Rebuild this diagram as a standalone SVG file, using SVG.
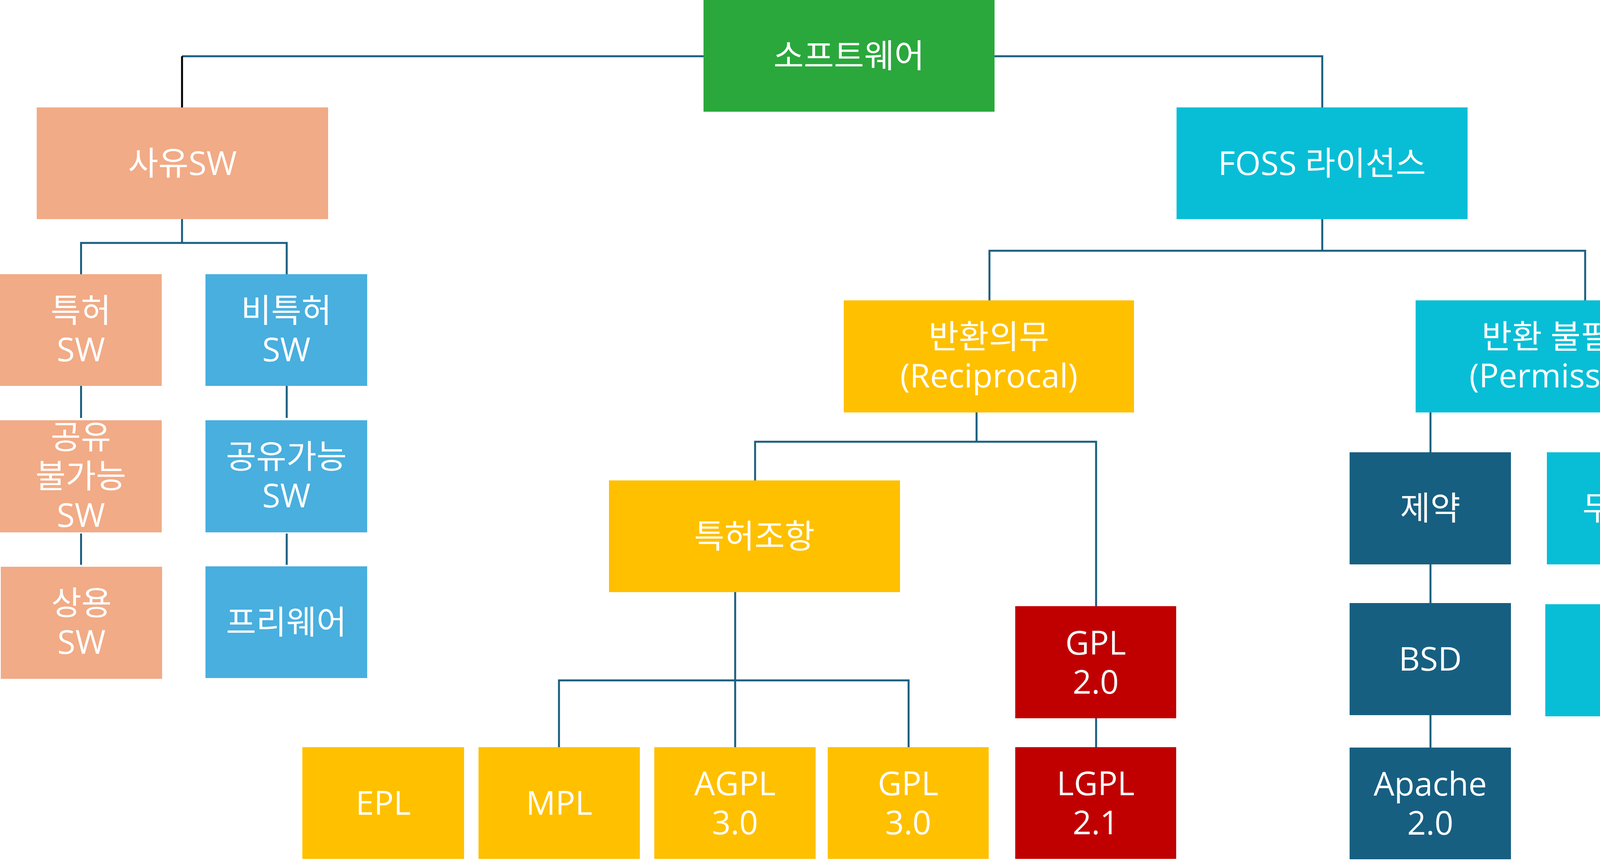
<svg xmlns="http://www.w3.org/2000/svg" width="4374" height="2207" viewBox="0 0 4374 2207">
<style>
.t{font-family:"Open Sans","Noto Sans CJK KR",sans-serif;font-size:84px;fill:#ffffff;text-anchor:middle}
.c{fill:none;stroke:#1A5F80;stroke-width:5}
.green{fill:#2AA83C}
.salmon{fill:#F1AB86}
.blue{fill:#48AFDF}
.cyan{fill:#07BED6}
.yellow{fill:#FFC000}
.red{fill:#C00000}
.teal{fill:#175F81}
</style>
<rect width="4374" height="2207" fill="#ffffff"/>
<g id="connectors">
<path class="c" d="M1801 144H466"/>
<path d="M466 144V275" fill="none" stroke="#000000" stroke-width="5"/>
<path class="c" d="M2546 144H3385V275"/>
<path class="c" d="M466 561V622M207.5 702V622H734V702"/>
<path class="c" d="M207.5 988V1070M207.5 1366V1446M734 988V1070M734 1366V1446"/>
<path class="c" d="M3385 561V642M2533 769V642H4058V769"/>
<path class="c" d="M2500 1056V1131M1933 1230V1131H2806V1552"/>
<path class="c" d="M1882 1516V1913M1431 1913V1742H2326V1913"/>
<path class="c" d="M2806 1839V1913"/>
<path class="c" d="M3662 1056V1158M4168 1056V1158M3662 1445V1544M3662 1831V1914M4168 1445V1547"/>
</g>
<g id="software"><rect class="green" x="1801" y="0" width="745" height="286"/><text class="t" x="2173.5" y="173">소프트웨어</text></g>
<g id="proprietary"><rect class="salmon" x="94" y="275" width="746" height="286"/><text class="t" x="467" y="448">사유SW</text></g>
<g id="foss"><rect class="cyan" x="3012" y="275" width="745" height="286"/><text class="t" x="3384.5" y="448">FOSS 라이선스</text></g>
<g id="patent-sw"><rect class="salmon" x="0" y="702" width="414" height="286"/><text class="t" x="207" y="825">특허</text><text class="t" x="207" y="925">SW</text></g>
<g id="nonpatent-sw"><rect class="blue" x="526" y="702" width="414" height="286"/><text class="t" x="733" y="825">비특허</text><text class="t" x="733" y="925">SW</text></g>
<g id="unshareable-sw"><rect class="salmon" x="0" y="1076" width="414" height="287"/><text class="t" x="207" y="1149">공유</text><text class="t" x="207" y="1249">불가능</text><text class="t" x="207" y="1349">SW</text></g>
<g id="shareable-sw"><rect class="blue" x="526" y="1076" width="414" height="287"/><text class="t" x="733" y="1199">공유가능</text><text class="t" x="733" y="1299">SW</text></g>
<g id="commercial-sw"><rect class="salmon" x="2" y="1451" width="413" height="287"/><text class="t" x="208.5" y="1574">상용</text><text class="t" x="208.5" y="1674">SW</text></g>
<g id="freeware"><rect class="blue" x="526" y="1450" width="414" height="286"/><text class="t" x="733" y="1623">프리웨어</text></g>
<g id="reciprocal"><rect class="yellow" x="2160" y="769" width="743" height="287"/><text class="t" x="2531.5" y="892">반환의무</text><text class="t" x="2531.5" y="992">(Reciprocal)</text></g>
<g id="permissive"><rect class="cyan" x="3624" y="769" width="746" height="287"/><text class="t" x="3997" y="892">반환 불필요</text><text class="t" x="3997" y="992">(Permissive)</text></g>
<g id="patent-clause"><rect class="yellow" x="1559" y="1230" width="745" height="286"/><text class="t" x="1931.5" y="1403">특허조항</text></g>
<g id="gpl2"><rect class="red" x="2599" y="1552" width="412" height="287"/><text class="t" x="2805" y="1676">GPL</text><text class="t" x="2805" y="1776">2.0</text></g>
<g id="lgpl21"><rect class="red" x="2599" y="1913" width="412" height="286"/><text class="t" x="2805" y="2036">LGPL</text><text class="t" x="2805" y="2136">2.1</text></g>
<g id="epl"><rect class="yellow" x="774" y="1913" width="414" height="286"/><text class="t" x="981" y="2086">EPL</text></g>
<g id="mpl"><rect class="yellow" x="1225" y="1913" width="413" height="286"/><text class="t" x="1431.5" y="2086">MPL</text></g>
<g id="agpl3"><rect class="yellow" x="1675" y="1913" width="413" height="286"/><text class="t" x="1881.5" y="2036">AGPL</text><text class="t" x="1881.5" y="2136">3.0</text></g>
<g id="gpl3"><rect class="yellow" x="2119" y="1913" width="412" height="286"/><text class="t" x="2325" y="2036">GPL</text><text class="t" x="2325" y="2136">3.0</text></g>
<g id="restricted"><rect class="teal" x="3455" y="1158" width="413" height="287"/><text class="t" x="3661.5" y="1331">제약</text></g>
<g id="unrestricted"><rect class="cyan" x="3960" y="1158" width="414" height="287"/><text class="t" x="4167" y="1331">무제약</text></g>
<g id="bsd"><rect class="teal" x="3455" y="1544" width="413" height="287"/><text class="t" x="3661.5" y="1717">BSD</text></g>
<g id="mit"><rect class="cyan" x="3956" y="1547" width="414" height="287"/><text class="t" x="4163" y="1720">MIT</text></g>
<g id="apache2"><rect class="teal" x="3455" y="1914" width="413" height="286"/><text class="t" x="3661.5" y="2037">Apache</text><text class="t" x="3661.5" y="2137">2.0</text></g>
</svg>
